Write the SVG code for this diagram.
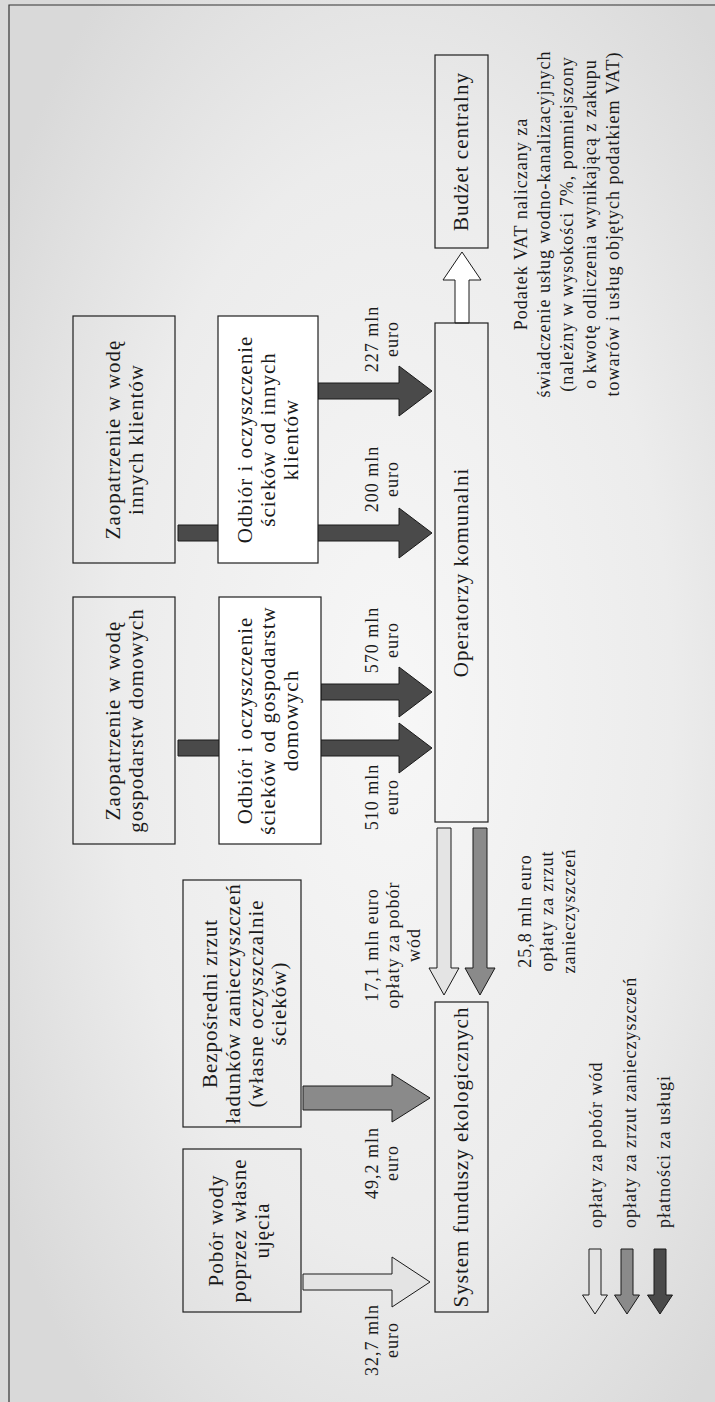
<svg xmlns="http://www.w3.org/2000/svg" width="715" height="1402" viewBox="0 0 715 1402">
<defs>
<radialGradient id="bg" cx="0.55" cy="0.5" r="0.65">
<stop offset="0" stop-color="#f7f7f7"/>
<stop offset="0.6" stop-color="#ececec"/>
<stop offset="1" stop-color="#d9d9d9"/>
</radialGradient>
<style>
.box{fill:none;stroke:#1e1e1e;stroke-width:1.2}
.wbox{fill:#ffffff;stroke:#1e1e1e;stroke-width:1.2}
.t{font-family:"Liberation Serif","Times New Roman",serif;font-size:21px;letter-spacing:1px;fill:#1a1a1a;text-anchor:middle}
.s{font-family:"Liberation Serif","Times New Roman",serif;font-size:18px;letter-spacing:1px;fill:#1a1a1a;text-anchor:middle}
.ls{font-family:"Liberation Serif","Times New Roman",serif;font-size:18px;letter-spacing:1px;fill:#1a1a1a;text-anchor:start}
.aD{fill:#4a4a4a;stroke:#1a1a1a;stroke-width:1}
.aM{fill:#8a8a8a;stroke:#1a1a1a;stroke-width:1}
.aL{fill:#e4e4e4;stroke:#1a1a1a;stroke-width:1}
.aW{fill:#ffffff;stroke:#1a1a1a;stroke-width:1}
.frame{fill:none;stroke:#333;stroke-width:1.2}
</style>
</defs>
<rect x="0" y="0" width="715" height="1402" fill="url(#bg)"/>
<path class="frame" d="M9,1402 V5 H715"/>

<g id="connectors">
<path class="aD" d="M318,383 H399 V366 L432,391 L399,416 V399 H318 Z"/>
<path class="aD" d="M178,525 H399 V508 L432,533 L399,558 V541 H178 Z"/>
<path class="aD" d="M321,684 H399 V667 L432,692 L399,717 V700 H321 Z"/>
<path class="aD" d="M178,740 H399 V723 L432,748 L399,773 V756 H178 Z"/>
<path class="aM" d="M303,1086 H392 V1074 L430,1098 L392,1122 V1110 H303 Z"/>
<path class="aL" d="M303,1274 H392 V1257 L430,1282 L392,1307 V1290 H303 Z"/>
<path class="aL" d="M437,828 H451 V968 H459 L444,995 L429,968 H437 Z"/>
<path class="aM" d="M473,828 H487 V968 H495 L480,995 L465,968 H473 Z"/>
<path class="aW" d="M455,323 V280 H443 L462,252 L481,280 H469 V323 Z"/>
</g>

<g id="budzet">
<rect class="box" x="435" y="55" width="53" height="193"/>
<text class="t" transform="translate(468,151.5) rotate(-90)">Budżet centralny</text>
</g>
<g id="operatorzy">
<rect class="box" x="435" y="323" width="53" height="499"/>
<text class="t" transform="translate(468,572.5) rotate(-90)">Operatorzy komunalni</text>
</g>
<g id="system">
<rect class="box" x="435" y="1002" width="53" height="310"/>
<text class="t" transform="translate(468,1157) rotate(-90)">System funduszy ekologicznych</text>
</g>
<g id="zaop-inni">
<rect class="box" x="73" y="316" width="102" height="247"/>
<text class="t" transform="translate(119.5,439.5) rotate(-90)"><tspan x="0" y="0">Zaopatrzenie w wodę</tspan><tspan x="0" dy="23">innych klientów</tspan></text>
</g>
<g id="odbior-inni">
<rect class="wbox" x="218" y="316" width="100" height="247"/>
<text class="t" transform="translate(252,439.5) rotate(-90)"><tspan x="0" y="0">Odbiór i oczyszczenie</tspan><tspan x="0" dy="23">ścieków od innych</tspan><tspan x="0" dy="23">klientów</tspan></text>
</g>
<g id="zaop-dom">
<rect class="box" x="73" y="597" width="102" height="247"/>
<text class="t" transform="translate(119.5,720.5) rotate(-90)"><tspan x="0" y="0">Zaopatrzenie w wodę</tspan><tspan x="0" dy="23">gospodarstw domowych</tspan></text>
</g>
<g id="odbior-dom">
<rect class="wbox" x="219" y="597" width="102" height="247"/>
<text class="t" transform="translate(252,720.5) rotate(-90)"><tspan x="0" y="0">Odbiór i oczyszczenie</tspan><tspan x="0" dy="23">ścieków od gospodarstw</tspan><tspan x="0" dy="23">domowych</tspan></text>
</g>
<g id="zrzut">
<rect class="box" x="183" y="880" width="118" height="247"/>
<text class="t" transform="translate(217,1003.5) rotate(-90)"><tspan x="0" y="0">Bezpośredni zrzut</tspan><tspan x="0" dy="23">ładunków zanieczyszczeń</tspan><tspan x="0" dy="23">(własne oczyszczalnie</tspan><tspan x="0" dy="23">ścieków)</tspan></text>
</g>
<g id="pobor">
<rect class="box" x="183" y="1149" width="118" height="163"/>
<text class="t" transform="translate(223,1230.5) rotate(-90)"><tspan x="0" y="0">Pobór wody</tspan><tspan x="0" dy="23">poprzez własne</tspan><tspan x="0" dy="23">ujęcia</tspan></text>
</g>

<g id="labels">
<text class="s" transform="translate(378,339) rotate(-90)"><tspan x="0" y="0">227 mln</tspan><tspan x="0" dy="20">euro</tspan></text>
<text class="s" transform="translate(378,479) rotate(-90)"><tspan x="0" y="0">200 mln</tspan><tspan x="0" dy="20">euro</tspan></text>
<text class="s" transform="translate(378,640) rotate(-90)"><tspan x="0" y="0">570 mln</tspan><tspan x="0" dy="20">euro</tspan></text>
<text class="s" transform="translate(378,797) rotate(-90)"><tspan x="0" y="0">510 mln</tspan><tspan x="0" dy="20">euro</tspan></text>
<text class="s" transform="translate(378,1163) rotate(-90)"><tspan x="0" y="0">49,2 mln</tspan><tspan x="0" dy="20">euro</tspan></text>
<text class="s" transform="translate(378,1340) rotate(-90)"><tspan x="0" y="0">32,7 mln</tspan><tspan x="0" dy="20">euro</tspan></text>
<text class="s" transform="translate(378,945) rotate(-90)"><tspan x="0" y="0">17,1 mln euro</tspan><tspan x="0" dy="21">opłaty za pobór</tspan><tspan x="0" dy="21">wód</tspan></text>
<text class="s" transform="translate(531,911) rotate(-90)"><tspan x="0" y="0">25,8 mln euro</tspan><tspan x="0" dy="22">opłaty za zrzut</tspan><tspan x="0" dy="22">zanieczyszczeń</tspan></text>
<text class="s" transform="translate(527,224) rotate(-90)"><tspan x="0" y="0">Podatek VAT naliczany za</tspan><tspan x="0" dy="23">świadczenie usług wodno-kanalizacyjnych</tspan><tspan x="0" dy="23">(należny w wysokości 7%, pomniejszony</tspan><tspan x="0" dy="23">o kwotę odliczenia wynikającą z zakupu</tspan><tspan x="0" dy="23">towarów i usług objętych podatkiem VAT)</tspan></text>
</g>

<g id="legend">
<path class="aL" d="M589,1249 H601 V1295 H607.5 L595,1314 L582.5,1295 H589 Z"/>
<path class="aM" d="M621,1249 H633 V1295 H639.5 L627,1314 L614.5,1295 H621 Z"/>
<path class="aD" d="M654,1249 H666 V1295 H672.5 L660,1314 L647.5,1295 H654 Z"/>
<text class="ls" transform="translate(602,1228) rotate(-90)">opłaty za pobór wód</text>
<text class="ls" transform="translate(636,1228) rotate(-90)">opłaty za zrzut zanieczyszczeń</text>
<text class="ls" transform="translate(670,1228) rotate(-90)">płatności za usługi</text>
</g>
</svg>
